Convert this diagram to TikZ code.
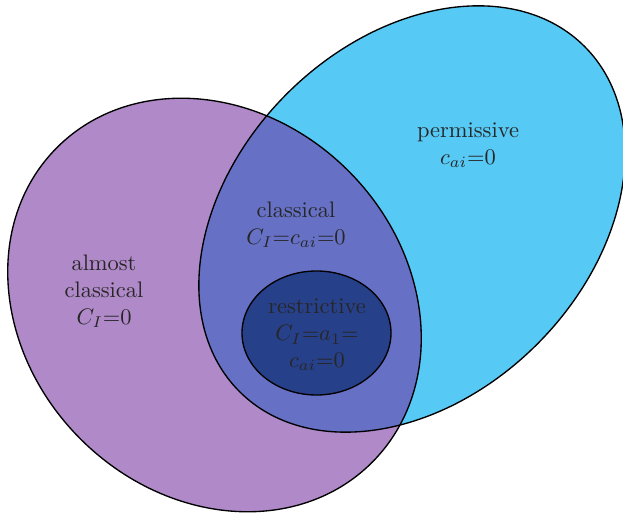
\documentclass[tikz,border=0pt]{standalone}
\usepackage{amsmath}
\usepackage{tikz}
\usetikzlibrary{positioning}

\definecolor{almostcol}{RGB}{176,137,200}
\definecolor{permcol}{RGB}{86,201,245}
\definecolor{classcol}{RGB}{102,113,197}
\definecolor{restrcol}{RGB}{39,64,138}

\begin{document}
\begin{tikzpicture}[x=0.444bp,y=0.444bp,
    rim/.style={draw=black,semithick},
    lbl/.style={align=center,text=black!85}]
    \useasboundingbox (0,0) rectangle (623,513);

    % sets
    \fill[almostcol] (214.5,208) ellipse [x radius=222.7,y radius=189.5,rotate=-45];
    \fill[permcol] (412,294) ellipse [x radius=244,y radius=177,rotate=45];
    \begin{scope}
      \clip (214.5,208) ellipse [x radius=222.7,y radius=189.5,rotate=-45];
      \fill[classcol] (412,294) ellipse [x radius=244,y radius=177,rotate=45];
    \end{scope}
    \draw[rim] (214.5,208) ellipse [x radius=222.7,y radius=189.5,rotate=-45];
    \draw[rim] (412,294) ellipse [x radius=244,y radius=177,rotate=45];
    \draw[rim,fill=restrcol] (316.5,180) ellipse [x radius=74.5,y radius=62];

    % labels
    \node[lbl] (perm) at (468,368) {permissive\\$c_{ai}{=}0$};
    \node[lbl] (class) at (296,288) {classical\\$C_I{=}c_{ai}{=}0$};
    \node[lbl] (almost) at (104,222) {almost\\classical\\$C_I{=}0$};
    \node[lbl] (restr) at (317,178) {restrictive\\$C_I{=}a_1{=}$\\$c_{ai}{=}0$};
  \end{tikzpicture}
\end{document}
